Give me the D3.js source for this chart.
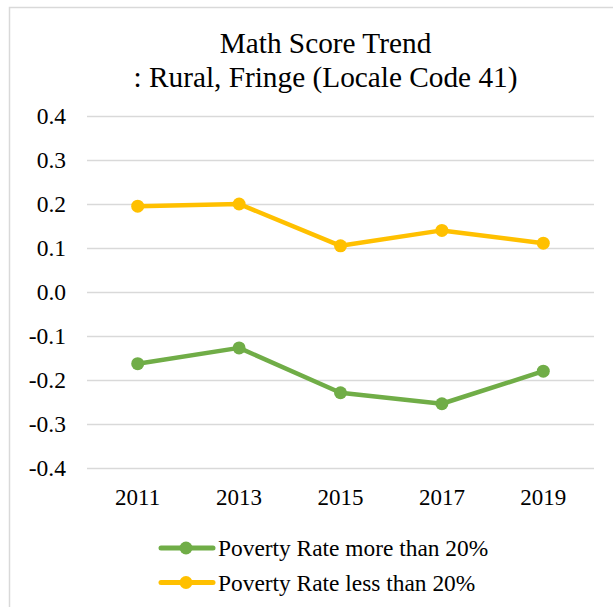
<!DOCTYPE html>
<html>
<head>
<meta charset="utf-8">
<script src="https://cdn.jsdelivr.net/npm/d3@7"></script>
<style>
  html, body { margin: 0; padding: 0; background: #fff; }
  svg { display: block; }
</style>
</head>
<body>
<svg id="chart" width="613" height="607"></svg>
<script>
const years = ["2011", "2013", "2015", "2017", "2019"];
const seriesNames = ["Poverty Rate more than 20%", "Poverty Rate less than 20%"];
const moreThan20 = [-0.163, -0.127, -0.229, -0.254, -0.180];
const lessThan20 = [0.195, 0.200, 0.105, 0.140, 0.111];
const yTicks = [-0.4, -0.3, -0.2, -0.1, 0.0, 0.1, 0.2, 0.3, 0.4];
const titleLines = ["Math Score Trend", ": Rural, Fringe (Locale Code 41)"];
const colors = ["#70AD47", "#FFC000"];

const series = [
  { name: seriesNames[0], values: moreThan20, color: colors[0] },
  { name: seriesNames[1], values: lessThan20, color: colors[1] }
];

const svg = d3.select("#chart");
const font = "'Liberation Serif', 'Times New Roman', serif";

// chart area border
svg.append("rect")
  .attr("x", 9.5).attr("y", 7.5)
  .attr("width", 620).attr("height", 620)
  .attr("fill", "#fff")
  .attr("stroke", "#d9d9d9").attr("stroke-width", 1.5);

const plot = { left: 87, right: 594, top: 116, bottom: 468 };

const x = d3.scaleBand().domain(years).range([plot.left, plot.right]);
const y = d3.scaleLinear().domain([-0.4, 0.4]).range([plot.bottom, plot.top]);

// title
svg.append("g").selectAll("text").data(titleLines).join("text")
  .attr("x", 325.5)
  .attr("y", (d, i) => 53 + i * 33.5)
  .attr("text-anchor", "middle")
  .attr("font-family", font)
  .attr("font-size", "29.3px")
  .attr("fill", "#000")
  .text(d => d);

// gridlines
svg.append("g").selectAll("line").data(yTicks).join("line")
  .attr("x1", plot.left).attr("x2", plot.right)
  .attr("y1", d => Math.round(y(d)) + 0.5).attr("y2", d => Math.round(y(d)) + 0.5)
  .attr("stroke", "#d9d9d9").attr("stroke-width", 1.5);

// y axis labels
const fmt = d => d3.format(".1f")(d).replace("\u2212", "-");
const yAxis = d3.axisLeft(y).tickValues(yTicks).tickFormat(fmt).tickSize(0).tickPadding(0);
const yg = svg.append("g").attr("transform", `translate(66,0)`).call(yAxis)
  .attr("font-family", font).attr("font-size", 23.5);
yg.select(".domain").remove();
yg.selectAll("text")
  .style("font-family", font).style("font-size", "23.5px").attr("fill", "#000")
  .attr("dy", "0.32em");

// x axis labels
const xAxis = d3.axisBottom(x).tickSize(0).tickPadding(0);
const xg = svg.append("g").attr("transform", `translate(0,${plot.bottom})`).call(xAxis)
  .attr("font-family", font).attr("font-size", 23);
xg.select(".domain").remove();
xg.selectAll("text")
  .style("font-family", font).style("font-size", "23px").attr("fill", "#000")
  .attr("y", 37).attr("dy", 0);

// lines
const line = d3.line()
  .x((d, i) => x(years[i]) + x.bandwidth() / 2)
  .y(d => y(d));

const sg = svg.append("g");
series.forEach(s => {
  sg.append("path")
    .attr("d", line(s.values))
    .attr("fill", "none")
    .attr("stroke", s.color)
    .attr("stroke-width", 4.5)
    .attr("stroke-linejoin", "round")
    .attr("stroke-linecap", "round");
  sg.selectAll(null).data(s.values).join("circle")
    .attr("cx", (d, i) => x(years[i]) + x.bandwidth() / 2)
    .attr("cy", d => y(d))
    .attr("r", 6.5)
    .attr("fill", s.color);
});

// legend
const lg = svg.append("g");
series.forEach((s, i) => {
  const cy = 548 + i * 34.5;
  lg.append("line")
    .attr("x1", 161).attr("x2", 213)
    .attr("y1", cy).attr("y2", cy)
    .attr("stroke", s.color).attr("stroke-width", 5)
    .attr("stroke-linecap", "round");
  lg.append("circle")
    .attr("cx", 186).attr("cy", cy).attr("r", 6.5)
    .attr("fill", s.color);
  lg.append("text")
    .attr("x", 218).attr("y", cy + 8)
    .attr("font-family", font).attr("font-size", "23.4px").attr("fill", "#000")
    .text(s.name);
});
</script>
</body>
</html>
